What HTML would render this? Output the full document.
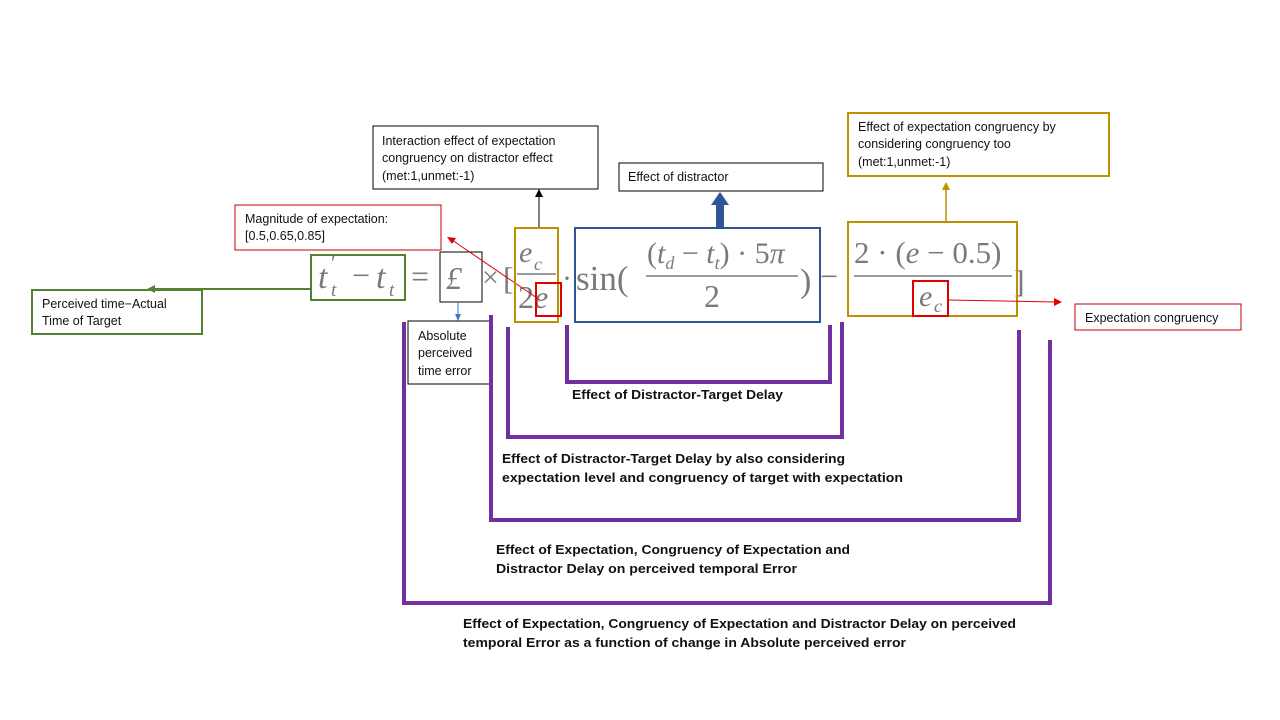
<!DOCTYPE html>
<html><head><meta charset="utf-8"><style>
html,body{margin:0;padding:0;background:#fff;width:1280px;height:720px;overflow:hidden}
svg{display:block}
.l{font-family:"Liberation Sans",sans-serif;font-size:12.5px;fill:#111}
.b{font-family:"Liberation Sans",sans-serif;font-size:12.5px;font-weight:bold;fill:#111}
.m{font-family:"Liberation Serif",serif;fill:#7a7a7a}
.i{font-style:italic}
</style></head><body>
<svg width="1280" height="720" viewBox="0 0 1280 720" xmlns="http://www.w3.org/2000/svg">
<g class="m">
<text x="318" y="288" font-size="34" class="i">t</text>
<text x="331" y="270" font-size="22">′</text>
<text x="331" y="296" font-size="19" class="i">t</text>
<text x="352" y="286" font-size="32">−</text>
<text x="376" y="288" font-size="34" class="i">t</text>
<text x="389" y="296" font-size="19" class="i">t</text>
<text x="411" y="287" font-size="32">=</text>
<text x="446" y="289" font-size="32" class="i">£</text>
<text x="482" y="287" font-size="30">×</text>
<text x="503" y="289" font-size="32">[</text>
<text x="519" y="262" font-size="30" class="i">e</text>
<text x="534" y="270" font-size="18" class="i">c</text>
<line x1="517" y1="274" x2="556" y2="274" stroke="#7a7a7a" stroke-width="1.5"/>
<text x="518" y="308" font-size="32">2<tspan class="i">e</tspan></text>
<text x="562" y="288" font-size="30">·</text>
<text x="576" y="290" font-size="35">sin(</text>
<text x="647" y="263" font-size="30">(<tspan class="i">t</tspan><tspan font-size="18" dy="6" class="i">d</tspan><tspan dy="-6"> − </tspan><tspan class="i">t</tspan><tspan font-size="18" dy="6" class="i">t</tspan><tspan dy="-6">) · 5</tspan><tspan class="i">π</tspan></text>
<line x1="646" y1="276" x2="798" y2="276" stroke="#7a7a7a" stroke-width="1.5"/>
<text x="704" y="307" font-size="32">2</text>
<text x="800" y="292" font-size="34">)</text>
<text x="820" y="287" font-size="32">−</text>
<text x="854" y="263" font-size="31">2 · (<tspan class="i">e</tspan> − 0.5)</text>
<line x1="854" y1="276" x2="1012" y2="276" stroke="#7a7a7a" stroke-width="1.5"/>
<text x="919" y="306" font-size="30" class="i">e</text>
<text x="934" y="312" font-size="18" class="i">c</text>
<text x="1014" y="292" font-size="32">]</text>
</g>

<rect x="311" y="255" width="94" height="45" fill="none" stroke="#548235" stroke-width="2"/>
<polyline points="311,289 150,289" fill="none" stroke="#548235" stroke-width="2"/>
<polygon points="147,289 155,285 155,293" fill="#548235"/>
<rect x="32" y="290" width="170" height="44" fill="none" stroke="#548235" stroke-width="2"/>
<text class="l" x="42" y="308">Perceived time−Actual</text>
<text class="l" x="42" y="325">Time of Target</text>

<rect x="440" y="252" width="42" height="50" fill="none" stroke="#000" stroke-width="1"/>
<line x1="458" y1="302" x2="458" y2="316" stroke="#4472c4" stroke-width="1"/>
<polygon points="458,321 455,314 461,314" fill="#4472c4"/>
<rect x="408" y="321" width="82" height="63" fill="#fff" stroke="#000" stroke-width="1"/>
<text class="l" x="418" y="340">Absolute</text>
<text class="l" x="418" y="357">perceived</text>
<text class="l" x="418" y="375">time error</text>

<rect x="235" y="205" width="206" height="45" fill="none" stroke="#c00000" stroke-width="1"/>
<text class="l" x="245" y="223">Magnitude of expectation:</text>
<text class="l" x="245" y="240">[0.5,0.65,0.85]</text>
<line x1="540" y1="300" x2="452" y2="240" stroke="#e00000" stroke-width="1"/>
<polygon points="447,237 456,238 452,244" fill="#e00000"/>

<rect x="373" y="126" width="225" height="63" fill="none" stroke="#000" stroke-width="1"/>
<text class="l" x="382" y="145">Interaction effect of  expectation</text>
<text class="l" x="382" y="162">congruency on distractor effect</text>
<text class="l" x="382" y="180">(met:1,unmet:-1)</text>
<line x1="539" y1="228" x2="539" y2="195" stroke="#000" stroke-width="1"/>
<polygon points="539,189 535,197 543,197" fill="#000"/>

<rect x="515" y="228" width="43" height="94" fill="none" stroke="#bf9000" stroke-width="2"/>
<rect x="536" y="283" width="25" height="33" fill="none" stroke="#e00000" stroke-width="2"/>

<rect x="575" y="228" width="245" height="94" fill="none" stroke="#2f5597" stroke-width="2"/>
<rect x="716" y="204" width="8" height="24" fill="#2f5597"/>
<polygon points="720,192 711,205 729,205" fill="#2f5597"/>
<rect x="619" y="163" width="204" height="28" fill="none" stroke="#000" stroke-width="1"/>
<text class="l" x="628" y="181">Effect of distractor</text>

<rect x="848" y="222" width="169" height="94" fill="none" stroke="#bf9000" stroke-width="2"/>
<rect x="913" y="281" width="35" height="35" fill="none" stroke="#e00000" stroke-width="2"/>
<line x1="948" y1="300" x2="1055" y2="302" stroke="#e00000" stroke-width="1"/>
<polygon points="1062,302 1054,298 1054,306" fill="#e00000"/>
<rect x="1075" y="304" width="166" height="26" fill="none" stroke="#c00000" stroke-width="1"/>
<text class="l" x="1085" y="322">Expectation congruency</text>
<line x1="946" y1="222" x2="946" y2="188" stroke="#bf9000" stroke-width="1.5"/>
<polygon points="946,182 942,190 950,190" fill="#bf9000"/>
<rect x="848" y="113" width="261" height="63" fill="none" stroke="#bf9000" stroke-width="2"/>
<text class="l" x="858" y="131">Effect  of expectation congruency by</text>
<text class="l" x="858" y="148">considering congruency too</text>
<text class="l" x="858" y="166">(met:1,unmet:-1)</text>

<g fill="none" stroke="#7030a0" stroke-width="4">
<polyline points="567,325 567,382 830,382 830,325"/>
<polyline points="508,327 508,437 842,437 842,322"/>
<polyline points="491,315 491,520 1019,520 1019,330"/>
<polyline points="404,322 404,603 1050,603 1050,340"/>
</g>
<text class="b" x="572" y="399" textLength="211" lengthAdjust="spacingAndGlyphs">Effect of Distractor-Target Delay</text>
<text class="b" x="502" y="463" textLength="343" lengthAdjust="spacingAndGlyphs">Effect of Distractor-Target Delay by also considering</text>
<text class="b" x="502" y="482" textLength="401" lengthAdjust="spacingAndGlyphs">expectation level and congruency of target with expectation</text>
<text class="b" x="496" y="554" textLength="354" lengthAdjust="spacingAndGlyphs">Effect of Expectation, Congruency of Expectation and</text>
<text class="b" x="496" y="573" textLength="301" lengthAdjust="spacingAndGlyphs">Distractor Delay on perceived temporal Error</text>
<text class="b" x="463" y="628" textLength="553" lengthAdjust="spacingAndGlyphs">Effect of Expectation, Congruency of Expectation and Distractor Delay on perceived</text>
<text class="b" x="463" y="647" textLength="443" lengthAdjust="spacingAndGlyphs">temporal Error as a function of change in Absolute perceived error</text>
</svg>
</body></html>
